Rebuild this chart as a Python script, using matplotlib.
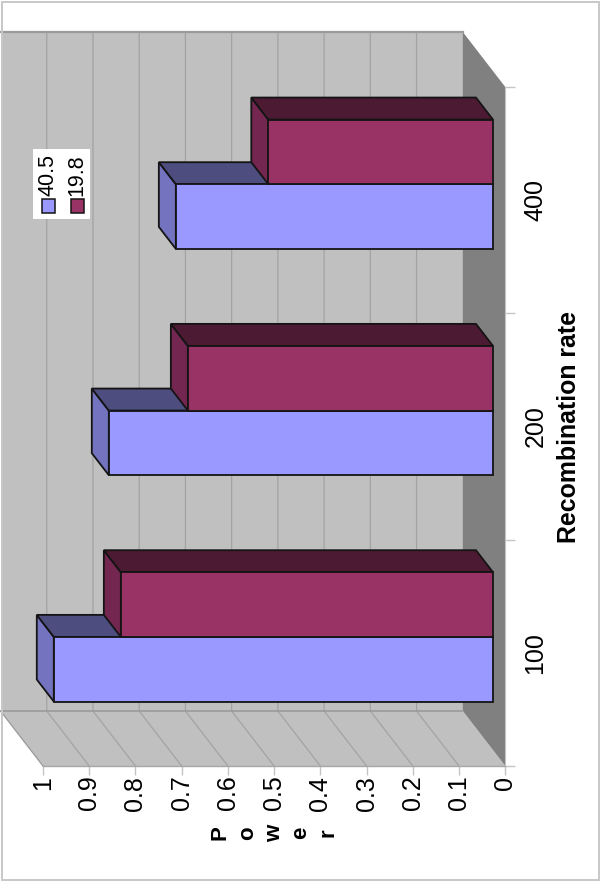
import matplotlib
matplotlib.use("Agg")
import matplotlib.pyplot as plt
from matplotlib.patches import Polygon, Rectangle

categories = ["100", "200", "400"]
series_names = ["40.5", "19.8"]
series_a = [0.95, 0.831, 0.686]
series_b = [0.805, 0.66, 0.486]
value_ticks = [0, 0.1, 0.2, 0.3, 0.4, 0.5, 0.6, 0.7, 0.8, 0.9, 1]

W, H = 600, 881
plt.rcParams['font.family'] = ['Liberation Sans', 'DejaVu Sans']

fig = plt.figure(figsize=(W / 100, H / 100), dpi=100)
ax = fig.add_axes([43 / W, 1 - 766 / H, (505.3 - 43) / W, (766 - 87) / H])
ax.set_xlim(1, 0)
ax.set_ylim(0, 3)
ax.patch.set_alpha(0)

DX, DY = 42.5 / 462.3, 55 / 226.3      # depth vector in data units
GAP = 1.5
BAR = 1 / (2 + GAP)
D0, D1 = 0.29, 0.69                    # front/back depth of bars


def P(v, c, d=0.0):
    return (v + d * DX, c + d * DY)


def poly(pts, fc, ec="none", lw=0, z=1):
    ax.add_patch(Polygon(pts, closed=True, facecolor=fc, edgecolor=ec,
                         linewidth=lw, clip_on=False, zorder=z, joinstyle="miter"))


# walls and floor
poly([P(0, 0, 1), P(1, 0, 1), P(1, 3, 1), P(0, 3, 1)], "#c0c0c0", z=1)
poly([P(0, 0, 0), P(1, 0, 0), P(1, 0, 1), P(0, 0, 1)], "#c0c0c0", z=1)
poly([P(0, 0, 0), P(0, 3, 0), P(0, 3, 1), P(0, 0, 1)], "#808080", z=1)

GRID = "#a3a3a3"
for v in value_ticks[1:-1]:
    ax.plot(*zip(P(v, 0, 0), P(v, 0, 1), P(v, 3, 1)), color=GRID, lw=0.9,
            clip_on=False, zorder=2)
ax.plot(*zip(P(0, 3, 1), P(1, 3, 1)), color="#9a9a9a", lw=1.6, clip_on=False, zorder=2)
ax.plot(*zip(P(0, 0, 1), P(1, 0, 1)), color="#9a9a9a", lw=1.2, clip_on=False, zorder=2)
ax.plot(*zip(P(1, 0, 0), P(1, 0, 1)), color="#9a9a9a", lw=0.9, clip_on=False, zorder=2)
ax.plot(*zip(P(0, 0, 0), P(1, 0, 0)), color="#9a9a9a", lw=0.9, clip_on=False, zorder=2)


def bar3d(v, c0, c1, front, side, top, z):
    ec = "#141414"
    lw = 1.3
    poly([P(v, c0, D0), P(v, c1, D0), P(v, c1, D1), P(v, c0, D1)], side, ec, lw, z)
    poly([P(0, c1, D0), P(v, c1, D0), P(v, c1, D1), P(0, c1, D1)], top, ec, lw, z)
    poly([P(0, c0, D0), P(v, c0, D0), P(v, c1, D0), P(0, c1, D0)], front, ec, lw, z)


for i in range(len(categories)):
    z = 10 + 2 * i
    start = i + GAP / 2 * BAR
    bar3d(series_a[i], start, start + BAR,
          "#9999ff", "#7373bf", "#4d4d80", z)
    bar3d(series_b[i], start + BAR, start + 2 * BAR,
          "#993366", "#732650", "#4d1a33", z + 1)

# axes
AXC = "#c4c4c4"
for s in ("top", "left"):
    ax.spines[s].set_visible(False)
ax.spines["bottom"].set_color("#a8a8a8")
ax.spines["right"].set_color(AXC)
ax.spines["bottom"].set_zorder(3)
ax.spines["right"].set_zorder(3)

ax.set_xticks(value_ticks)
ax.set_xticklabels([f"{v:g}" for v in value_ticks], rotation=90, fontsize=18,
                   va="top", ha="center", color="black")
ax.tick_params(axis="x", length=6.5, width=1, color=AXC, pad=0.5)

ax.yaxis.tick_right()
ax.yaxis.set_label_position("right")
ax.set_yticks(range(len(categories) + 1))
ax.set_yticklabels([""] * (len(categories) + 1))
ax.set_yticks([i + 0.5 for i in range(len(categories))], minor=True)
ax.set_yticklabels(categories, minor=True, rotation=90, fontsize=18,
                   va="center", ha="left", color="black")
ax.tick_params(axis="y", which="major", length=7, width=1, color=AXC)
ax.tick_params(axis="y", which="minor", length=0, pad=13)

ax.set_xlabel("P\no\nw\ne\nr", rotation=90, fontsize=16, fontweight="bold",
              linespacing=1.37, labelpad=4, va="center", ha="center")
ax.set_ylabel("Recombination rate", rotation=90, fontsize=17.9,
              fontweight="bold", labelpad=14, va="center", ha="center")
ax.xaxis.set_label_coords(0.5, (766 - 833) / (766 - 87))
ax.yaxis.set_label_coords((569.5 - 43) / (505.3 - 43), 0.5)


# legend and outer frame, placed in figure pixels
def fr(x, y, w, h, **kw):
    fig.patches.append(Rectangle((x / W, 1 - (y + h) / H), w / W, h / H,
                                 transform=fig.transFigure, figure=fig, **kw))


fr(33, 149, 57, 70, facecolor="white", edgecolor="none", zorder=50)
fr(41.5, 199.5, 13, 13.5, facecolor="#9999ff", edgecolor="#141414", linewidth=1.1, zorder=51)
fr(70.5, 199.5, 13, 13.5, facecolor="#993366", edgecolor="#141414", linewidth=1.1, zorder=51)
fig.text(48.5 / W, 1 - 175 / H, series_names[0], rotation=90, fontsize=15.5,
         ha="center", va="center", zorder=52)
fig.text(77 / W, 1 - 175 / H, series_names[1], rotation=90, fontsize=15.5,
         ha="center", va="center", zorder=52)
fr(1.5, 1.5, 597, 878, facecolor="none", edgecolor="#c8c8c8", linewidth=1.4, zorder=60)

fig.savefig("out.png", dpi=100, facecolor="white")
